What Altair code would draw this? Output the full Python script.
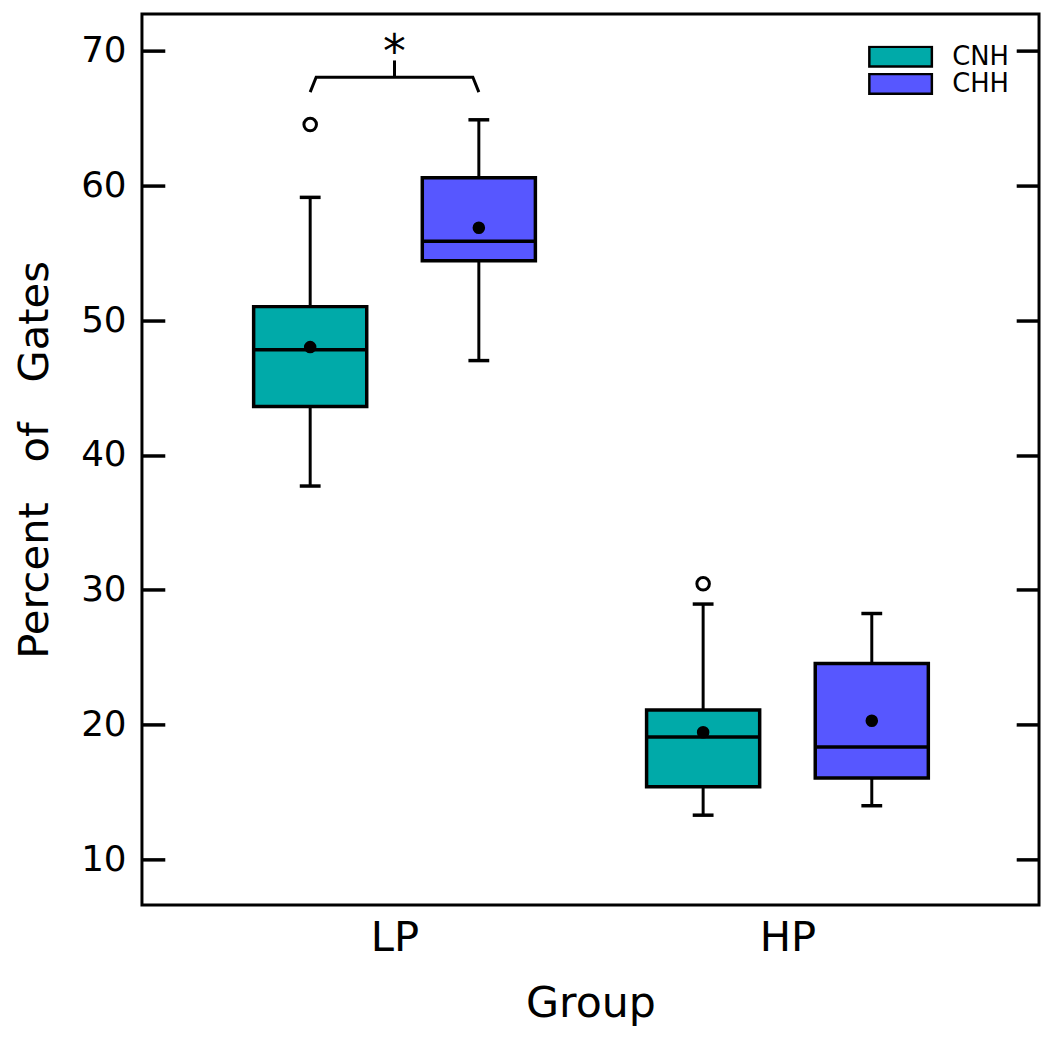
import altair as alt
import pandas as pd

# ---------------- data ----------------
groups = ["LP", "HP"]
hearing = ["CNH", "CHH"]
box_group = ["LP", "LP", "HP", "HP"]
box_hearing = ["CNH", "CHH", "CNH", "CHH"]
whisker_low = [37.7, 47.0, 13.3, 14.0]
q1 = [43.6, 54.4, 15.4, 16.05]
median = [47.8, 55.85, 19.1, 18.35]
q3 = [51.0, 60.55, 21.1, 24.55]
whisker_high = [59.1, 64.85, 28.95, 28.25]
mean = [48.0, 56.85, 19.45, 20.3]
outlier_group = ["LP", "HP"]
outlier_hearing = ["CNH", "CNH"]
outlier_value = [64.5, 30.45]
bracket_low = 66.9
bracket_high = 68.0
bracket_tip = 69.25
star_y = 68.8
star_label = "*"
colors = ["#00AAA9", "#5757FF"]
y_ticks = [10, 20, 30, 40, 50, 60, 70]

# ---------------- layout constants ----------------
FONT = "DejaVu Sans"
Y_DOMAIN = [6.64, 72.70]
X_DOMAIN = [0.3573, 2.6402]
DODGE = 0.2146
HALF_BOX = 0.1439
HALF_CAP = 0.0265
SLANT = 0.0152
W, H = 904, 898


def xpos(g, h):
    return groups.index(g) + 1 + (-DODGE if h == hearing[0] else DODGE)


box = pd.DataFrame({
    "group": box_group, "hearing": box_hearing,
    "low": whisker_low, "q1": q1, "median": median, "q3": q3,
    "high": whisker_high, "mean": mean,
})
box["pos"] = [xpos(g, h) for g, h in zip(box_group, box_hearing)]
box["left"] = box["pos"] - HALF_BOX
box["right"] = box["pos"] + HALF_BOX
box["capl"] = box["pos"] - HALF_CAP
box["capr"] = box["pos"] + HALF_CAP

caps = pd.concat([
    box[["capl", "capr"]].assign(val=box["low"]),
    box[["capl", "capr"]].assign(val=box["high"]),
])

outl = pd.DataFrame({"group": outlier_group, "hearing": outlier_hearing,
                     "value": outlier_value})
outl["pos"] = [xpos(g, h) for g, h in zip(outlier_group, outlier_hearing)]

xl = xpos("LP", "CNH")
xr = xpos("LP", "CHH")
bracket = pd.DataFrame({
    "x": [xl, xl + SLANT, xr - SLANT, xr],
    "y": [bracket_low, bracket_high, bracket_high, bracket_low],
    "o": [0, 1, 2, 3],
})
tip = pd.DataFrame({"x": [(xl + xr) / 2], "y": [bracket_high],
                    "y2": [bracket_tip], "ys": [star_y], "t": [star_label]})

xs = alt.Scale(domain=X_DOMAIN, nice=False, zero=False)
ys = alt.Scale(domain=Y_DOMAIN, nice=False, zero=False)

x_axis = alt.Axis(
    orient="bottom", values=[1, 2],
    labelExpr="datum.value == 1 ? '%s' : '%s'" % (groups[0], groups[1]),
    ticks=False, tickSize=0, domain=False, grid=False,
    labelFont=FONT, labelFontSize=42, labelColor="black",
    labelBaseline="alphabetic", labelPadding=46,
    title="Group", titleFont=FONT, titleFontSize=43, titleFontWeight="normal",
    titleColor="black", titleBaseline="alphabetic", titleY=112,
)
y_axis_left = alt.Axis(
    orient="left", offset=-23, tickSize=23, tickWidth=3.5, tickColor="black",
    domain=False, grid=False, values=y_ticks,
    labelFont=FONT, labelFontSize=36, labelColor="black", labelPadding=16,
    title="Percent\u00a0\u00a0 of\u00a0\u00a0 Gates", titleFont=FONT,
    titleFontSize=42, titleFontWeight="normal", titleColor="black",
    titleX=-118, titleY=H / 2, titleBaseline="alphabetic", titleAngle=270,
)
y_axis_right = alt.Axis(
    orient="right", offset=-23, tickSize=23, tickWidth=3.5, tickColor="black",
    domain=False, grid=False, values=y_ticks, labels=False, title=None,
)

legend = alt.Legend(
    title=None, orient="none", legendX=731.5, legendY=32, padding=0,
    symbolType="M-1,-0.3175H1V0.3175H-1Z", symbolSize=3969,
    symbolStrokeColor="black", symbolStrokeWidth=2.5, symbolOpacity=1,
    labelFont=FONT, labelFontSize=26, labelColor="black", labelOffset=19,
    clipHeight=22, rowPadding=1.5,
)

whisk = alt.Chart(box).mark_rule(color="black", strokeWidth=3).encode(
    x=alt.X("pos:Q", scale=xs, axis=None),
    y=alt.Y("low:Q", scale=ys, axis=y_axis_right),
    y2="high:Q",
)
cap = alt.Chart(caps).mark_rule(color="black", strokeWidth=3.5).encode(
    x=alt.X("capl:Q", scale=xs, axis=None), x2="capr:Q",
    y=alt.Y("val:Q", scale=ys, axis=None),
)
rect = alt.Chart(box).mark_rect(stroke="black", strokeWidth=3.5, opacity=1).encode(
    x=alt.X("left:Q", scale=xs, axis=x_axis), x2="right:Q",
    y=alt.Y("q1:Q", scale=ys, axis=y_axis_left), y2="q3:Q",
    color=alt.Color("hearing:N", scale=alt.Scale(domain=hearing, range=colors),
                    legend=legend),
)
med = alt.Chart(box).mark_rule(color="black", strokeWidth=3.5).encode(
    x=alt.X("left:Q", scale=xs, axis=None), x2="right:Q",
    y=alt.Y("median:Q", scale=ys, axis=None),
)
mn = alt.Chart(box).mark_point(filled=True, shape="circle", size=160,
                               color="black", opacity=1).encode(
    x=alt.X("pos:Q", scale=xs, axis=None),
    y=alt.Y("mean:Q", scale=ys, axis=None),
)
ol = alt.Chart(outl).mark_point(filled=False, shape="circle", size=160,
                                color="black", strokeWidth=3, opacity=1).encode(
    x=alt.X("pos:Q", scale=xs, axis=None),
    y=alt.Y("value:Q", scale=ys, axis=None),
)
br = alt.Chart(bracket).mark_line(color="black", strokeWidth=3).encode(
    x=alt.X("x:Q", scale=xs, axis=None),
    y=alt.Y("y:Q", scale=ys, axis=None),
    order="o:Q",
)
tp = alt.Chart(tip).mark_rule(color="black", strokeWidth=3).encode(
    x=alt.X("x:Q", scale=xs, axis=None),
    y=alt.Y("y:Q", scale=ys, axis=None), y2="y2:Q",
)
star = alt.Chart(tip).mark_text(font=FONT, fontSize=46, color="black",
                                baseline="alphabetic", align="center").encode(
    x=alt.X("x:Q", scale=xs, axis=None),
    y=alt.Y("ys:Q", scale=ys, axis=None),
    text="t:N",
)

chart = alt.layer(whisk, cap, rect, med, mn, ol, br, tp, star).resolve_axis(
    x="independent", y="independent"
).properties(
    width=W, height=H,
    autosize=alt.AutoSizeParams(type="none"),
    padding={"left": 135, "top": 2, "right": 3, "bottom": 122},
).configure_view(stroke="black", strokeWidth=3)

chart.save("out.html", embed_options={"renderer": "svg", "actions": False})
